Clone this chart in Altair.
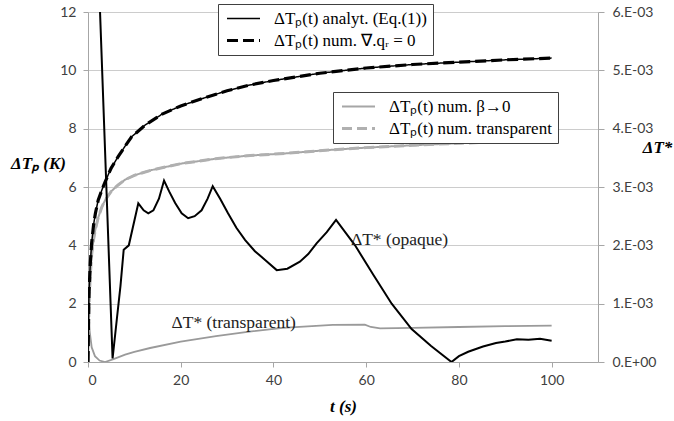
import altair as alt
import pandas as pd

# ---- data ----
t_black = [0, 0.2, 0.5, 0.8, 1.2, 1.6, 2.2, 3, 3.7, 5, 6.5, 8, 9.4, 12.3, 16, 20, 25, 30, 35, 40, 50, 60, 70, 80, 90, 100]
dTp_analyt = [0, 2.3, 3.4, 4.1, 4.7, 5.1, 5.55, 5.9, 6.18, 6.65, 7.04, 7.4, 7.72, 8.12, 8.5, 8.78, 9.05, 9.3, 9.5, 9.65, 9.9, 10.08, 10.2, 10.28, 10.36, 10.42]
dTp_num_div0 = [0, 2.3, 3.4, 4.1, 4.7, 5.1, 5.55, 5.9, 6.18, 6.65, 7.04, 7.4, 7.72, 8.12, 8.5, 8.78, 9.05, 9.3, 9.5, 9.65, 9.9, 10.08, 10.2, 10.28, 10.36, 10.42]

t_gray = [0, 0.2, 0.5, 0.8, 1.2, 1.6, 2.2, 3, 3.7, 5, 6.5, 8, 10, 13.7, 20, 28, 35, 42.5, 52, 60, 70, 80, 90, 100]
dTp_num_beta0 = [0, 1.9, 3.0, 3.7, 4.2, 4.55, 4.95, 5.32, 5.55, 5.85, 6.07, 6.25, 6.4, 6.58, 6.8, 6.98, 7.08, 7.15, 7.27, 7.35, 7.43, 7.5, 7.55, 7.6]
dTp_num_transp = [0, 1.9, 3.0, 3.7, 4.2, 4.55, 4.95, 5.32, 5.55, 5.85, 6.07, 6.25, 6.4, 6.58, 6.8, 6.98, 7.08, 7.15, 7.27, 7.35, 7.43, 7.5, 7.55, 7.6]

t_opaque = [2.3, 5.3, 6.2, 7.0, 7.7, 8.8, 10.85, 12.0, 13.0, 14.1, 15.3, 16.4, 17.5, 18.8, 20.2, 21.6, 23.0, 24.5, 25.8, 26.9,
            28.5, 30.2, 32.0, 33.9, 36.0, 38.2, 40.7, 43.0, 45.7, 47.5, 49.3, 51.5, 53.5, 57.6, 61.5, 65.5, 69.8, 74.0, 78.4,
            80.0, 82.0, 85.2, 88.0, 90.0, 92.5, 95.0, 97.5, 100.0]
dTs_opaque = [0.00665, 0.00006, 0.00072, 0.0013, 0.001925, 0.002, 0.00272, 0.0026, 0.00255, 0.0026, 0.0028, 0.00311, 0.002925,
              0.002725, 0.00255, 0.002465, 0.0025, 0.0026, 0.0028, 0.003015, 0.0028, 0.00255, 0.0023, 0.00209, 0.0019, 0.00175,
              0.001575, 0.0016, 0.00172, 0.00185, 0.002035, 0.002225, 0.002435, 0.002, 0.0015, 0.001, 0.000565, 0.000275, 0.0,
              0.0001, 0.000175, 0.000265, 0.000325, 0.00035, 0.00039, 0.00038, 0.0004, 0.000365]

t_transp = [0, 0.2, 0.4, 0.8, 1.5, 2.5, 3.7, 5.5, 8, 10, 13.4, 20, 27.6, 34.8, 42, 52.8, 59.7, 61, 63, 70, 80, 90, 100]
dTs_transp = [0, 0.00065, 0.0005, 0.00025, 0.0001, 0.000025, 0, 0.00005, 0.000125, 0.000175, 0.00024, 0.00035, 0.000445,
              0.00052, 0.000585, 0.000635, 0.00064, 0.0006, 0.000575, 0.000585, 0.0006, 0.000615, 0.000625]

lbl_black = ["ΔTₚ(t) analyt. (Eq.(1))", "ΔTₚ(t) num. ∇.qᵣ = 0"]
lbl_gray = ["ΔTₚ(t) num. β→0", "ΔTₚ(t) num. transparent"]

ann_t = [56.7, 18.0]
ann_v = [4.18, 1.34]
ann_text = ["ΔT* (opaque)", "ΔT* (transparent)"]

x_ticks = [0, 20, 40, 60, 80, 100]
yl_ticks = [0, 2, 4, 6, 8, 10, 12]
yr_ticks = [0, 0.001, 0.002, 0.003, 0.004, 0.005, 0.006]

SERIF = "Liberation Serif, Times New Roman, Times, serif"

# ---- frames ----
df_black = pd.concat([
    pd.DataFrame({"t": t_black, "v": dTp_analyt, "s": lbl_black[0], "o": 0}),
    pd.DataFrame({"t": t_black, "v": dTp_num_div0, "s": lbl_black[1], "o": 1}),
])
df_gray = pd.concat([
    pd.DataFrame({"t": t_gray, "v": dTp_num_beta0, "s": lbl_gray[0], "o": 0}),
    pd.DataFrame({"t": t_gray, "v": dTp_num_transp, "s": lbl_gray[1], "o": 1}),
])
df_op = pd.DataFrame({"t": t_opaque, "v": dTs_opaque})
df_tr = pd.DataFrame({"t": t_transp, "v": dTs_transp})
df_ann = pd.DataFrame({"t": ann_t, "v": ann_v, "label": ann_text})

title_style = dict(titleFont=SERIF, titleFontSize=17, titleFontWeight="bold",
                   titleFontStyle="italic", titleColor="black")
label_style = dict(labelFont="Lato", labelFontSize=14, labelColor="#404040")

xs = alt.Scale(domain=[0, 110], nice=False, zero=False)
x_enc = alt.X("t:Q", scale=xs, axis=alt.Axis(values=x_ticks, title="t (s)", grid=False, tickSize=5,
                                             labelPadding=6, titleX=255, titleY=44,
                                             titleAlign="center", titleBaseline="middle",
                                             **title_style, **label_style))

ys_left = alt.Scale(domain=[0, 12], nice=False)
ys_right = alt.Scale(domain=[0, 0.006], nice=False)

leg1 = alt.Legend(title=None, orient="none", legendX=130, legendY=-8)
leg2 = alt.Legend(title=None, orient="none", legendX=245, legendY=80)

black = alt.Chart(df_black).mark_line(clip=True).encode(
    x=x_enc,
    y=alt.Y("v:Q", scale=ys_left, axis=alt.Axis(orient="left", values=yl_ticks, grid=True, tickSize=5,
                                               labelPadding=7, title="ΔTₚ (K)", titleAngle=0,
                                               titleX=-50, titleY=151, titleAlign="center",
                                               titleBaseline="middle", **title_style, **label_style)),
    color=alt.Color("s:N", scale=alt.Scale(domain=lbl_black, range=["#000000", "#000000"]), legend=leg1),
    strokeDash=alt.StrokeDash("s:N", scale=alt.Scale(domain=lbl_black, range=[[1, 0], [11, 5]]), legend=leg1),
    strokeWidth=alt.StrokeWidth("s:N", scale=alt.Scale(domain=lbl_black, range=[1.5, 3.2]), legend=leg1),
    order="o:Q",
)

gray = alt.Chart(df_gray).mark_line(clip=True).encode(
    x=x_enc,
    y=alt.Y("v:Q", scale=ys_left, axis=None),
    color=alt.Color("s:N", scale=alt.Scale(domain=lbl_gray, range=["#a6a6a6", "#b0b0b0"]), legend=leg2),
    strokeDash=alt.StrokeDash("s:N", scale=alt.Scale(domain=lbl_gray, range=[[1, 0], [10, 5]]), legend=leg2),
    strokeWidth=alt.StrokeWidth("s:N", scale=alt.Scale(domain=lbl_gray, range=[2, 3]), legend=leg2),
    order="o:Q",
)

opaque = alt.Chart(df_op).mark_line(clip=True, color="black", strokeWidth=2).encode(
    x=x_enc,
    y=alt.Y("v:Q", scale=ys_right, axis=alt.Axis(
        orient="right", values=yr_ticks, grid=False, tickSize=6, labelPadding=8,
        labelExpr="datum.value == 0 ? '0.E+00' : format(datum.value * 1000, '.0f') + '.E-03'",
        title="ΔT*", titleAngle=0, titleX=59, titleY=135, titleAlign="center", titleBaseline="middle",
        **title_style, **label_style)),
)

transp = alt.Chart(df_tr).mark_line(clip=True, color="#9a9a9a", strokeWidth=1.8).encode(
    x=x_enc,
    y=alt.Y("v:Q", scale=ys_right, axis=None),
)

ann = alt.Chart(df_ann).mark_text(align="left", baseline="middle", font=SERIF,
                                  fontSize=17.5, color="#222222").encode(
    x=x_enc,
    y=alt.Y("v:Q", scale=ys_left, axis=None),
    text="label:N",
)

chart = alt.layer(transp, gray, black, opaque, ann).resolve_scale(
    y="independent", color="independent", strokeDash="independent", strokeWidth="independent"
).properties(
    width=510, height=350,
    background="white",
    autosize=alt.AutoSizeParams(type="none"),
    padding={"left": 88, "top": 12, "right": 76, "bottom": 59},
).configure_view(strokeWidth=0).configure_axis(
    domainColor="#a6a6a6", tickColor="#a6a6a6", gridColor="#cccccc",
).configure_legend(
    strokeColor="#404040", fillColor="white", padding=6,
    labelFont=SERIF, labelFontSize=17, labelColor="black",
    symbolType="M-3,0H3", symbolSize=121, symbolOffset=11, labelOffset=22,
    rowPadding=4, labelLimit=0,
)

chart.save("out.html", embed_options={"renderer": "svg", "actions": False})
